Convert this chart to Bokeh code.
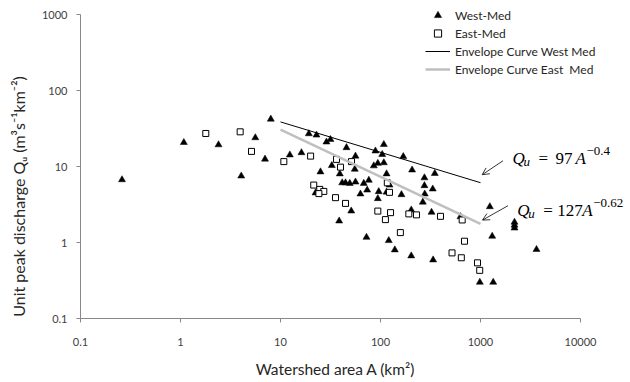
import math
from bokeh.plotting import figure
from bokeh.models import (FixedTicker, CustomJSTickFormatter, Label, Arrow, OpenHead,
                          Legend, LegendItem)
from bokeh.embed import file_html
from bokeh.resources import INLINE

# ---- data ----
west_area = [0.26, 1.08, 2.4, 4.05, 5.6, 7.0, 8.0, 12.4, 16.2, 19.2, 22.9, 25.1, 28.8, 31.6,
             32.6, 39.2, 45.7, 55.3, 56.2, 85.7, 94, 108, 89, 104, 108, 115, 41.4, 44.7,
             49.3, 56.2, 68, 76.4, 22.4, 63, 73.6, 96, 94, 115, 51, 38.6, 72.4, 121, 139,
             203, 336, 123, 162, 169, 207, 275, 349, 275, 333, 277, 265, 203, 324, 631,
             1240, 1309, 2188, 2188, 2188, 3630, 985, 1340]
west_q = [6.7, 20.7, 19.3, 7.5, 23.9, 12.5, 42, 14.2, 15.2, 27, 25.9, 8.5, 21, 22.7,
          10.3, 8.0, 17.7, 9.2, 13.7, 10.2, 11.0, 11.2, 16, 14.4, 19.5, 8.0, 6.1, 6.1,
          6.0, 6.25, 6.0, 6.6, 4.5, 4.35, 4.9, 4.67, 3.78, 4.6, 2.6, 1.92, 1.17, 1.06, 0.80,
          0.667, 0.59, 5.7, 4.26, 13.5, 9.0, 7.1, 8.1, 5.6, 5.06, 4.35, 3.4, 2.68, 2.5, 2.19,
          2.96, 1.21, 1.85, 1.69, 1.55, 0.81, 0.30, 0.30]

east_area = [1.79, 3.95, 5.13, 10.8, 20, 36.3, 51.3, 39.8, 21.5, 24.7, 27.1, 24.2, 35.5,
             44.7, 94, 126, 112, 117, 123, 192, 229, 398, 158, 656, 692, 519, 643, 933, 982]
east_q = [27.2, 28.6, 15.8, 11.6, 13.7, 12.4, 11.6, 9.8, 5.7, 5.0, 4.7, 4.4, 3.89,
          3.27, 2.59, 2.47, 2.0, 6.1, 4.57, 2.38, 2.31, 2.21, 1.35, 1.98, 1.04, 0.73, 0.63,
          0.54, 0.43]

x_ticks = [0.1, 1, 10, 100, 1000, 10000]
y_ticks = [0.1, 1, 10, 100, 1000]

env_area = [10, 1000]
env_west = (97, -0.4)
env_east = (127, -0.62)

series_names = ["West-Med", "East-Med", "Envelope Curve West Med", "Envelope Curve East  Med"]
x_title = "Watershed area A (km\u00b2)"
y_title = "Unit peak discharge Q\u1d64 (m\u00b3s\u207b\u00b9km\u207b\u00b2)"

# ---- layout: frame covers the whole canvas, axes are pinned at 0.1 ----
W, H = 630, 382
X0, XDEC = 80, 100.0      # pixel of x=0.1, pixels per decade
Y0, YDEC = 318, 76.0      # pixel of y=0.1, pixels per decade
x_lo = 10 ** (-1 - X0 / XDEC)
x_hi = 10 ** (-1 + (W - X0) / XDEC)
y_lo = 10 ** (-1 - (H - Y0) / YDEC)
y_hi = 10 ** (-1 + Y0 / YDEC)

p = figure(width=W, height=H, x_axis_type="log", y_axis_type="log",
           x_range=(x_lo, x_hi), y_range=(y_lo, y_hi),
           output_backend="svg", toolbar_location=None, min_border=0)
p.outline_line_color = None
p.grid.visible = False
p.background_fill_color = "white"
p.border_fill_color = "white"

p.xaxis.ticker = FixedTicker(ticks=x_ticks, minor_ticks=[])
p.yaxis.ticker = FixedTicker(ticks=y_ticks, minor_ticks=[])
p.xaxis.formatter = CustomJSTickFormatter(code="return String(tick);")
p.yaxis.formatter = CustomJSTickFormatter(code="return String(tick);")
p.xaxis.fixed_location = y_ticks[0]
p.yaxis.fixed_location = x_ticks[0]
p.xaxis.bounds = (x_ticks[0], x_ticks[-1])
p.yaxis.bounds = (y_ticks[0], y_ticks[-1])

for ax in (p.xaxis[0], p.yaxis[0]):
    ax.axis_line_color = "#888888"
    ax.axis_line_width = 1
    ax.major_tick_line_color = "#888888"
    ax.major_tick_out = 4
    ax.major_tick_in = 0
    ax.minor_tick_line_color = None
    ax.major_label_text_font = "Lato"
    ax.major_label_text_font_size = "11px"
    ax.major_label_text_color = "#404040"
p.xaxis[0].major_label_standoff = 15
p.yaxis[0].major_label_standoff = 9

# ---- glyphs ----
west_env_q = [env_west[0] * a ** env_west[1] for a in env_area]
east_env_q = [env_east[0] * a ** env_east[1] for a in env_area]

r_w = p.scatter(west_area, west_q, marker="triangle", size=7,
                fill_color="black", line_color="black", line_width=0.5)
r_e = p.scatter(east_area, east_q, marker="square", size=6,
                fill_color="white", line_color="black", line_width=1)
r_lw = p.line(env_area, west_env_q, line_color="black", line_width=1)
r_le = p.line(env_area, east_env_q, line_color="#BFBFBF", line_width=2.5)

legend = Legend(items=[LegendItem(label=series_names[0], renderers=[r_w]),
                       LegendItem(label=series_names[1], renderers=[r_e]),
                       LegendItem(label=series_names[2], renderers=[r_lw]),
                       LegendItem(label=series_names[3], renderers=[r_le])],
                location=(425, H - 78), glyph_width=25, glyph_height=18, label_height=18,
                label_standoff=5, spacing=0, padding=0, margin=0,
                border_line_color=None, background_fill_alpha=0,
                label_text_font="Lato", label_text_font_size="12px",
                label_text_color="#262626")
p.add_layout(legend)

# ---- axis titles (anchored at the axes origin, offsets in pixels) ----
p.add_layout(Label(x=x_ticks[0], y=y_ticks[0], x_offset=18 - X0, y_offset=Y0 - 196,
                   angle=math.pi / 2, text=y_title,
                   text_align="center", text_baseline="middle",
                   text_font="Lato", text_font_size="16px", text_color="#262626"))
p.add_layout(Label(x=x_ticks[0], y=y_ticks[0], x_offset=335 - X0, y_offset=Y0 - 368,
                   text=x_title, text_align="center", text_baseline="middle",
                   text_font="Lato", text_font_size="15.5px", text_color="#262626"))

# ---- equation annotations ----
def equation(x, y, pieces):
    for txt, dx, dy, size, style in pieces:
        p.add_layout(Label(x=x, y=y, x_offset=dx, y_offset=dy, text=txt,
                           text_font="Liberation Serif", text_font_size=f"{size}px",
                           text_font_style=style, text_baseline="alphabetic",
                           text_align="left", text_color="black"))

equation(2089, 12.6, [("Q", 0, 0, 17, "italic"), ("u", 11, -3, 13, "italic"),
                      ("=", 26, 0, 17, "normal"), ("97", 43, 0, 17, "normal"),
                      ("A", 63, 0, 17, "italic"), ("\u22120.4", 74, 8, 13, "normal")])
equation(2328, 2.62, [("Q", 0, 0, 17, "italic"), ("u", 11, -3, 13, "italic"),
                      ("=", 26, 0, 17, "normal"), ("127", 40, 0, 17, "normal"),
                      ("A", 65, 0, 17, "italic"), ("\u22120.62", 76, 8, 13, "normal")])

p.add_layout(Arrow(end=OpenHead(size=7, line_width=0.8, line_color="black"),
                   x_start=1679, y_start=11.9, x_end=1040, y_end=7.8,
                   line_width=0.8, line_color="black"))
p.add_layout(Arrow(end=OpenHead(size=7, line_width=0.8, line_color="black"),
                   x_start=1884, y_start=3.05, x_end=1047, y_end=1.97,
                   line_width=0.8, line_color="black"))

open("out.html", "w").write(file_html(p, INLINE))
